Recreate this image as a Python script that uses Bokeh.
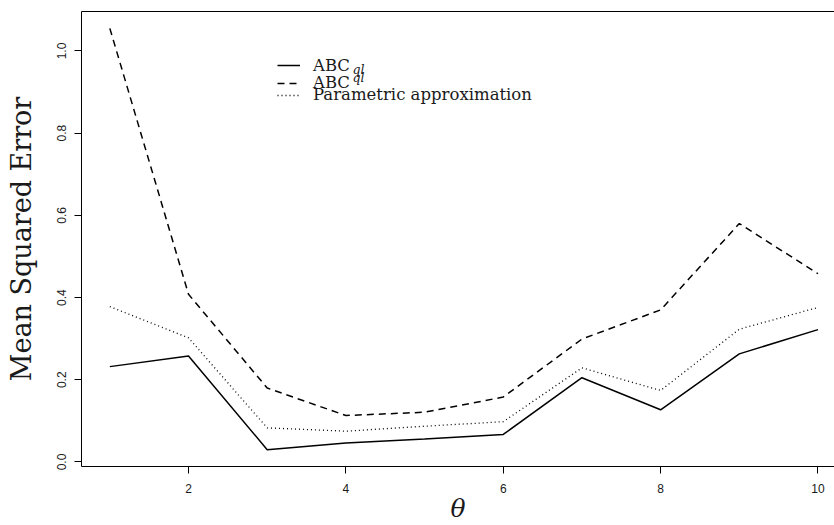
from bokeh.plotting import figure
from bokeh.models import FixedTicker, LinearAxis, Range1d, Label, Legend, LegendItem
from bokeh.embed import file_html
from bokeh.resources import INLINE

# ---- data ----
theta = [1, 2, 3, 4, 5, 6, 7, 8, 9, 10]
mse_abc_ql = [0.232, 0.258, 0.030, 0.046, 0.056, 0.067, 0.205, 0.127, 0.263, 0.322]
mse_abc = [1.055, 0.408, 0.180, 0.113, 0.121, 0.158, 0.299, 0.370, 0.580, 0.458]
mse_param = [0.378, 0.302, 0.083, 0.075, 0.087, 0.098, 0.229, 0.174, 0.323, 0.376]
x_ticks = [2, 4, 6, 8, 10]
y_ticks = [0.0, 0.2, 0.4, 0.6, 0.8, 1.0]
y_tick_labels = ["0.0", "0.2", "0.4", "0.6", "0.8", "1.0"]

# R-style 4% range expansion
all_y = mse_abc_ql + mse_abc + mse_param
ymin, ymax = min(all_y), max(all_y)
ypad = 0.04 * (ymax - ymin)
xpad = 0.04 * (max(theta) - min(theta))

p = figure(width=834, height=525, output_backend="svg", toolbar_location=None,
           x_range=Range1d(min(theta) - xpad, 10.21),
           y_range=Range1d(ymin - ypad, ymax + ypad),
           min_border_left=81, min_border_right=0, min_border_top=11, min_border_bottom=59)
p.xgrid.visible = False
p.ygrid.visible = False
p.outline_line_color = None
p.background_fill_color = "white"
p.border_fill_color = "white"

tick_font = "Liberation Sans"
for ax in (p.xaxis[0], p.yaxis[0]):
    ax.minor_tick_line_color = None
    ax.major_tick_out = 7
    ax.major_tick_in = 0
    ax.axis_line_color = "black"
    ax.axis_line_width = 1
    ax.major_tick_line_color = "black"
    ax.major_label_text_font = tick_font
    ax.major_label_text_font_size = "12px"
    ax.major_label_text_color = "#1a1a1a"
    ax.axis_label_text_font = "DejaVu Serif"
    ax.axis_label_text_color = "#1a1a1a"

xa = p.xaxis[0]
xa.ticker = FixedTicker(ticks=x_ticks)
xa.major_label_standoff = 10
xa.axis_label = "θ"
xa.axis_label_text_font_size = "25px"
xa.axis_label_text_font_style = "italic"
xa.axis_label_standoff = -2

ya = p.yaxis[0]
ya.ticker = FixedTicker(ticks=y_ticks)
ya.major_label_overrides = {t: l for t, l in zip(y_ticks, y_tick_labels)}
ya.major_label_orientation = "vertical"
ya.major_label_standoff = 8
ya.axis_label = "Mean Squared Error"
ya.axis_label_text_font_size = "27px"
ya.axis_label_text_font_style = "normal"
ya.axis_label_standoff = 18

top = LinearAxis(ticker=FixedTicker(ticks=[]), axis_line_color="black",
                 major_tick_out=0, major_tick_in=0, major_label_standoff=0,
                 minor_tick_line_color=None, major_tick_line_color=None)
p.add_layout(top, "above")

r1 = p.line(theta, mse_abc_ql, line_color="black", line_width=1.5)
r2 = p.line(theta, mse_abc, line_color="black", line_width=1.5, line_dash="7 5")
r3 = p.line(theta, mse_param, line_color="black", line_width=1.3, line_dash="1 3")

legend_labels = ["ABC", "ABC", "Parametric approximation"]
legend_locs = [(196, 391), (196, 373.5), (196, 361.3)]
for r, lab, loc in zip([r1, r2, r3], legend_labels, legend_locs):
    leg = Legend(items=[LegendItem(label=lab, renderers=[r])], location=loc,
                 background_fill_alpha=0, border_line_color=None, padding=0, margin=0,
                 glyph_width=23, glyph_height=20, label_height=20, label_standoff=13,
                 spacing=0, label_text_font="DejaVu Serif", label_text_font_size="16.5px",
                 label_text_baseline="alphabetic", label_text_color="#1a1a1a")
    p.add_layout(leg)

sub = Label(x=271, y=397, x_units="screen", y_units="screen", text="ql",
            text_font="DejaVu Serif", text_font_style="italic", text_font_size="12.5px",
            text_baseline="alphabetic", text_color="#1a1a1a")
sup = Label(x=271, y=389, x_units="screen", y_units="screen", text="ql",
            text_font="DejaVu Serif", text_font_style="italic", text_font_size="12.5px",
            text_baseline="alphabetic", text_color="#1a1a1a")
p.add_layout(sub)
p.add_layout(sup)

open("out.html", "w").write(file_html(p, INLINE))
